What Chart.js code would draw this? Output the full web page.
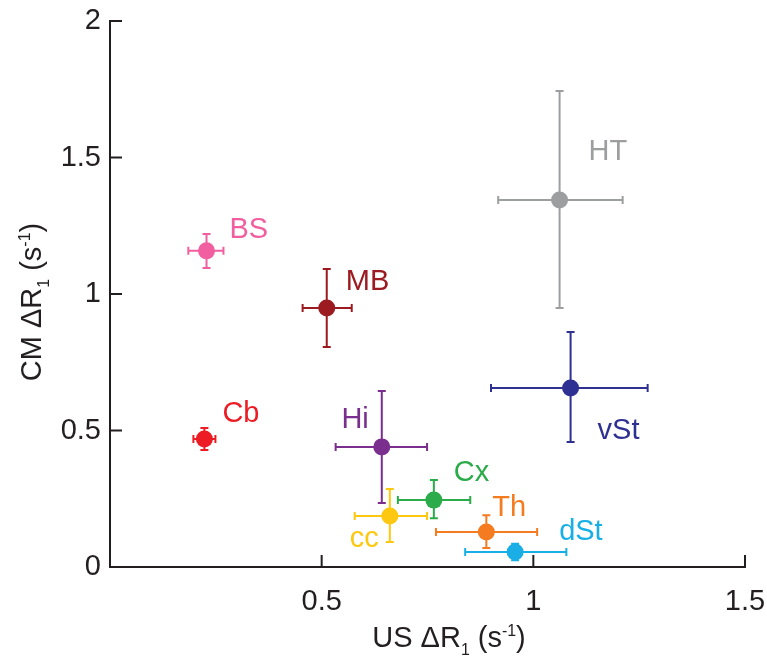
<!DOCTYPE html>
<html>
<head>
<meta charset="utf-8">
<script src="https://cdn.jsdelivr.net/npm/chart.js@4.4.1/dist/chart.umd.min.js"></script>
<style>
  html, body { margin: 0; padding: 0; background: #ffffff; }
  #wrap { width: 767px; height: 670px; position: relative; }
</style>
</head>
<body>
<div id="wrap"><canvas id="c"></canvas></div>
<script>
// Brain regions: change in R1 measured by ultrasound (US) vs. contrast mapping (CM)
const regions = ['BS', 'MB', 'Cb', 'Hi', 'Cx', 'cc', 'Th', 'dSt', 'HT', 'vSt'];

// US ΔR1 (s^-1): mean with lower / upper error limits
const usR1     = [0.228, 0.512, 0.223, 0.642, 0.765, 0.661, 0.889, 0.957, 1.062, 1.088];
const usR1Low  = [0.185, 0.455, 0.197, 0.533, 0.680, 0.578, 0.770, 0.839, 0.917, 0.900];
const usR1High = [0.268, 0.571, 0.249, 0.749, 0.851, 0.749, 1.009, 1.078, 1.211, 1.270];

// CM ΔR1 (s^-1): mean with lower / upper error limits
const cmR1     = [1.158, 0.949, 0.469, 0.440, 0.245, 0.187, 0.128, 0.055, 1.344, 0.656];
const cmR1Low  = [1.095, 0.806, 0.429, 0.234, 0.179, 0.092, 0.070, 0.025, 0.949, 0.458];
const cmR1High = [1.220, 1.092, 0.509, 0.645, 0.319, 0.286, 0.190, 0.085, 1.744, 0.861];

// Axis tick values
const xTickValues = [0.5, 1, 1.5];
const yTickValues = [0, 0.5, 1, 1.5, 2];

// Styling per region
const regionColors = ['#f15fa0', '#9b1b20', '#ed1c24', '#7a2e8e', '#2bab4a',
                      '#fdc80f', '#f47b20', '#19aee6', '#9d9ea0', '#2e3192'];
// Label placement relative to each marker: [dx, dy, align]
const labelPlacement = [
  [23, -21, 'left'], [19, -26, 'left'], [18, -25, 'left'], [-13, -27, 'right'],
  [20, -27, 'left'], [-11, 23, 'right'], [6, -24, 'left'], [44, -20, 'left'],
  [29, -48, 'left'], [27, 43, 'left']
];

const ink = '#231f20';
const fontFamily = '"Liberation Sans", Arial, Helvetica, sans-serif';

// Text with sub/superscript pieces, e.g. "US ΔR₁ (s⁻¹)"
function richParts(prefix) {
  return [
    { t: prefix + ' \u0394R', s: 1, dy: 0 },
    { t: '1', s: 0.55, dy: 0.28 },
    { t: ' (s', s: 1, dy: 0 },
    { t: '-1', s: 0.55, dy: -0.38 },
    { t: ')', s: 1, dy: 0 }
  ];
}

function drawRich(ctx, parts, size, cx, cy) {
  let total = 0;
  parts.forEach(p => {
    ctx.font = (size * p.s) + 'px ' + fontFamily;
    p.w = ctx.measureText(p.t).width;
    total += p.w;
  });
  let x = cx - total / 2;
  ctx.textAlign = 'left';
  ctx.textBaseline = 'alphabetic';
  parts.forEach(p => {
    ctx.font = (size * p.s) + 'px ' + fontFamily;
    ctx.fillText(p.t, x, cy + p.dy * size);
    x += p.w;
  });
}

const errorBarPlugin = {
  id: 'errorBarsAndAxes',
  beforeDatasetsDraw(chart) {
    const { ctx, scales: { x, y } } = chart;
    const cap = 4;
    ctx.save();
    ctx.lineWidth = 2;
    ctx.lineCap = 'butt';
    regions.forEach((name, i) => {
      const px = x.getPixelForValue(usR1[i]);
      const py = y.getPixelForValue(cmR1[i]);
      const xl = x.getPixelForValue(usR1Low[i]);
      const xh = x.getPixelForValue(usR1High[i]);
      const yl = y.getPixelForValue(cmR1Low[i]);
      const yh = y.getPixelForValue(cmR1High[i]);
      ctx.strokeStyle = regionColors[i];
      ctx.beginPath();
      ctx.moveTo(xl, py); ctx.lineTo(xh, py);
      ctx.moveTo(xl, py - cap); ctx.lineTo(xl, py + cap);
      ctx.moveTo(xh, py - cap); ctx.lineTo(xh, py + cap);
      ctx.moveTo(px, yl); ctx.lineTo(px, yh);
      ctx.moveTo(px - cap, yl); ctx.lineTo(px + cap, yl);
      ctx.moveTo(px - cap, yh); ctx.lineTo(px + cap, yh);
      ctx.stroke();
    });
    ctx.restore();
  },
  afterDatasetsDraw(chart) {
    const { ctx, chartArea, scales: { x, y } } = chart;
    ctx.save();

    // Region labels
    ctx.font = '29px ' + fontFamily;
    ctx.textBaseline = 'middle';
    regions.forEach((name, i) => {
      const [dx, dy, align] = labelPlacement[i];
      ctx.fillStyle = regionColors[i];
      ctx.textAlign = align;
      ctx.fillText(name, x.getPixelForValue(usR1[i]) + dx, y.getPixelForValue(cmR1[i]) + dy);
    });

    // Axes with inward ticks
    const tick = 12;
    ctx.strokeStyle = ink;
    ctx.lineWidth = 2;
    ctx.beginPath();
    ctx.moveTo(chartArea.left, y.getPixelForValue(2) - 1);
    ctx.lineTo(chartArea.left, chartArea.bottom);
    ctx.lineTo(x.getPixelForValue(1.5) + 1, chartArea.bottom);
    xTickValues.forEach(v => {
      const px = x.getPixelForValue(v);
      ctx.moveTo(px, chartArea.bottom);
      ctx.lineTo(px, chartArea.bottom - tick);
    });
    yTickValues.filter(v => v > 0).forEach(v => {
      const py = y.getPixelForValue(v);
      ctx.moveTo(chartArea.left, py);
      ctx.lineTo(chartArea.left + tick, py);
    });
    ctx.stroke();

    // Axis titles
    ctx.fillStyle = ink;
    drawRich(ctx, richParts('US'), 29, 449, 647);
    ctx.translate(41, 302);
    ctx.rotate(-Math.PI / 2);
    drawRich(ctx, richParts('CM'), 29, 0, 0);
    ctx.restore();
  }
};

const points = regions.map((name, i) => ({ x: usR1[i], y: cmR1[i] }));

new Chart(document.getElementById('c'), {
  type: 'scatter',
  data: {
    datasets: [{
      label: 'ΔR1',
      data: points,
      pointRadius: 8.5,
      pointHoverRadius: 8.5,
      pointBorderWidth: 0,
      pointBackgroundColor: regionColors,
      pointBorderColor: regionColors
    }]
  },
  options: {
    responsive: true,
    maintainAspectRatio: false,
    animation: false,
    events: [],
    layout: { padding: { top: 21, right: 22, left: 0, bottom: 0 } },
    plugins: { legend: { display: false }, tooltip: { enabled: false } },
    scales: {
      x: {
        type: 'linear',
        min: 0, max: 1.5,
        afterFit(scale) {
          scale.height = 103;
          scale.paddingLeft = 0;
          scale.paddingRight = 0;
        },
        afterBuildTicks(scale) { scale.ticks = [0].concat(xTickValues).map(v => ({ value: v })); },
        grid: { display: false, drawTicks: false },
        border: { display: false },
        ticks: {
          color: ink,
          padding: 18,
          font: { family: fontFamily, size: 29 },
          callback: v => (v === 0 ? '' : String(v))
        }
      },
      y: {
        type: 'linear',
        min: 0, max: 2,
        afterFit(scale) {
          scale.width = 110;
          scale.paddingTop = 0;
          scale.paddingBottom = 0;
        },
        afterBuildTicks(scale) { scale.ticks = yTickValues.map(v => ({ value: v })); },
        grid: { display: false, drawTicks: false },
        border: { display: false },
        ticks: {
          color: ink,
          padding: 9,
          font: { family: fontFamily, size: 29 },
          callback: v => String(v)
        }
      }
    }
  },
  plugins: [errorBarPlugin]
});
</script>
</body>
</html>
